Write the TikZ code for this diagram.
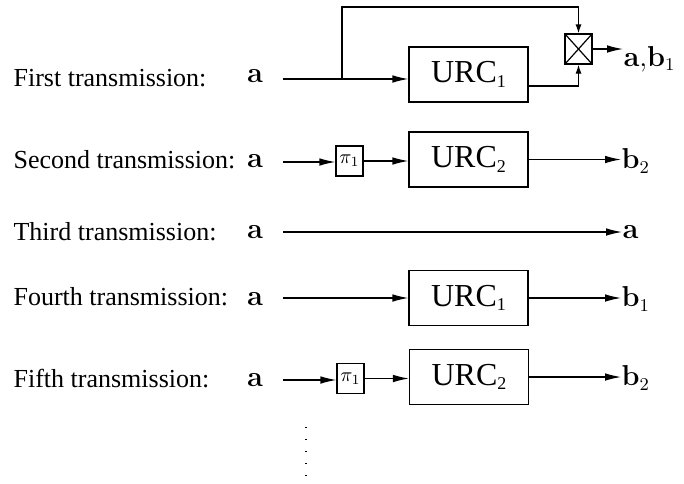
\documentclass[tikz,border=0pt]{standalone}
\usepackage[no-math]{fontspec}
\setmainfont{Liberation Serif}
\usetikzlibrary{arrows.meta}

\newcommand{\urcsub}[1]{\raisebox{-0.3ex}{\fontsize{9}{10}\selectfont #1}}

\begin{document}
\begin{tikzpicture}[x=0.5pt, y=-0.5pt, line width=0.6pt,
		>={Latex[length=8pt,width=3.8pt]},
		lbl/.style={anchor=base west, inner sep=0, font=\fontsize{13}{15}\selectfont},
		sym/.style={inner sep=0, font=\fontsize{13.5}{15}\selectfont},
		urc/.style={draw, minimum width=59.5pt, minimum height=27.5pt, inner sep=0, font=\fontsize{16}{18}\selectfont},
		perm/.style={draw, minimum width=13.5pt, minimum height=15pt, inner sep=0, font=\fontsize{10}{12}\selectfont},
		mult/.style={draw, minimum width=13.5pt, minimum height=15pt, inner sep=0,
			path picture={\draw (path picture bounding box.north west) -- (path picture bounding box.south east)
				(path picture bounding box.south west) -- (path picture bounding box.north east);}},
		smalltip/.style={-{Latex[length=4.5pt,width=3pt]}}]
		\useasboundingbox (0,0) rectangle (684,483);
		% first transmission
		\node[lbl] (t1) at (13,86) {First transmission:};
		\node[sym, anchor=base] (a1) at (255,82) {$\mathbf{a}$};
		\node[urc] (u1) at (468.5,74.5) {URC\urcsub{1}};
		\node[mult] (m1) at (578.5,49) {};
		\node[sym, anchor=base west] (o1) at (623,66) {$\mathbf{a}{,}\mathbf{b}_1$};
		\coordinate (s1) at (283,79);
		\coordinate (br) at (342,79);
		\coordinate (up) at (342,7);
		\draw[->] (s1) -- (s1 -| u1.west);
		\draw[smalltip] (br) -- (up) -| (m1.north);
		\draw[smalltip] ([yshift=-5.75pt]u1.east) -| (m1.south);
		\draw[->] (m1.east) -- (m1.east -| o1.west);
		% second transmission
		\node[lbl] (t2) at (13,168) {Second transmission:};
		\node[sym, anchor=base] (a2) at (255,167) {$\mathbf{a}$};
		\node[perm] (p2) at (349.5,161) {$\pi_1$};
		\node[urc] (u2) at (468.5,159.5) {URC\urcsub{2}};
		\node[sym, anchor=west] (o2) at (621,161) {$\mathbf{b}_2$};
		\coordinate (s2) at (283,162);
		\draw[->] (s2) -- (s2 -| p2.west);
		\draw[->] (p2.east) -- (p2.east -| u2.west);
		\draw[->] (u2.east) -- (u2.east -| o2.west);
		% third transmission
		\node[lbl] (t3) at (13,240) {Third transmission:};
		\node[sym, anchor=base] (a3) at (255,238) {$\mathbf{a}$};
		\node[sym, anchor=west] (o3) at (622,232) {$\mathbf{a}$};
		\coordinate (s3) at (283,232);
		\draw[->] (s3) -- (o3.west);
		% fourth transmission
		\node[lbl] (t4) at (13,305) {Fourth transmission:};
		\node[sym, anchor=base] (a4) at (255,305) {$\mathbf{a}$};
		\node[urc] (u4) at (468.5,298) {URC\urcsub{1}};
		\node[sym, anchor=west] (o4) at (621,299) {$\mathbf{b}_1$};
		\coordinate (s4) at (283,298);
		\draw[->] (s4) -- (s4 -| u4.west);
		\draw[->] (u4.east) -- (u4.east -| o4.west);
		% fifth transmission
		\node[lbl] (t5) at (13,387) {Fifth transmission:};
		\node[sym, anchor=base] (a5) at (255,386) {$\mathbf{a}$};
		\node[perm] (p5) at (350.5,378.5) {$\pi_1$};
		\node[urc] (u5) at (469,377) {URC\urcsub{2}};
		\node[sym, anchor=west] (o5) at (621,378) {$\mathbf{b}_2$};
		\coordinate (s5) at (283,380);
		\draw[->] (s5) -- (s5 -| p5.west);
		\draw[->] (p5.east) -- (p5.east -| u5.west);
		\draw[->] (u5.east) -- (u5.east -| o5.west);
		% more to come
		\coordinate (d1) at (306,427);
		\coordinate (d2) at (306,481);
		\draw[line width=0.8pt, dash pattern=on 0.6pt off 5.4pt] (d1) -- (d2);
	\end{tikzpicture}
\end{document}
